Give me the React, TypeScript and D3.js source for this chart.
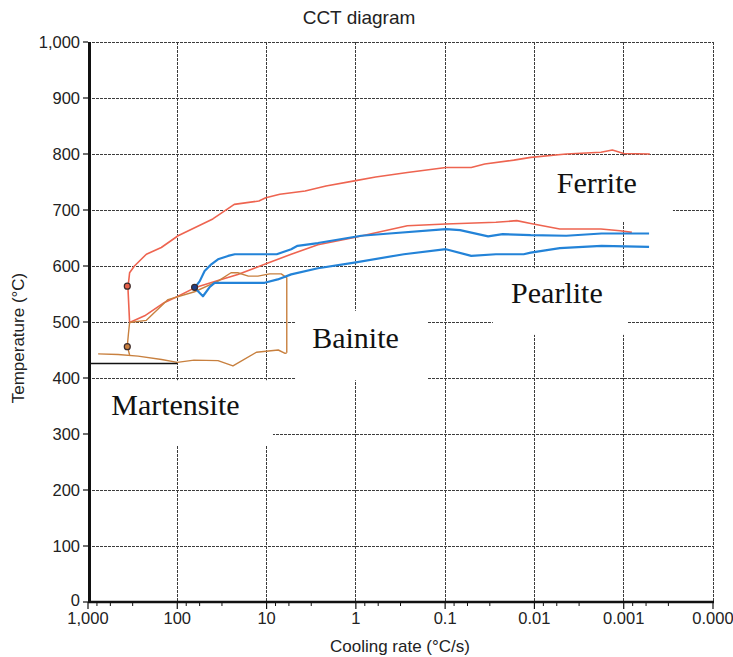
import React from 'react';
import * as d3 from 'd3';

// cooling rate (°C/s) on a reversed log axis, temperature (°C) on y
const rateTicks = [1000, 100, 10, 1, 0.1, 0.01, 0.001, 0.0001];
const rateTickLabels = ['1,000', '100', '10', '1', '0.1', '0.01', '0.001', '0.000'];
const minorTickFactors = [0.794, 0.562, 0.316];
const tempTicks = [0, 100, 200, 300, 400, 500, 600, 700, 800, 900, 1000];

// [rate, temperature]
const ferriteStart = [
  [342, 499], [357, 561], [342, 588], [302, 600], [222, 621], [151, 633], [98, 654],
  [40, 684], [23, 710], [12.2, 716], [10.2, 722], [7.1, 728], [3.7, 734], [2.16, 743],
  [1.04, 752], [0.6, 759], [0.265, 767], [0.098, 776], [0.051, 776], [0.036, 782],
  [0.017, 789], [0.011, 794], [0.0044, 800], [0.0018, 803], [0.00134, 807], [0.001, 801],
  [0.00051, 800],
];
const ferriteStart2 = [
  [342, 499], [232, 511], [139, 535], [98, 546], [64, 561], [35, 574], [21, 585],
  [10.5, 603], [5.3, 621], [2.66, 638], [1.04, 651], [0.265, 672], [0.098, 675],
  [0.027, 678], [0.0158, 681], [0.011, 676], [0.0052, 666], [0.0018, 666], [0.0011, 663],
  [0.00081, 660],
];
const pearliteStart = [
  [64, 561], [56, 573], [49.4, 591], [41.6, 603], [35, 612], [27, 618], [22.7, 621],
  [10.5, 621], [7.7, 621], [5.3, 630], [4.5, 636], [2.66, 641], [0.87, 654], [0.42, 658],
  [0.098, 666], [0.068, 664], [0.033, 653], [0.0227, 657], [0.011, 655], [0.0044, 654],
  [0.00177, 658], [0.00052, 658],
];
const pearliteFinish = [
  [64, 561], [51.6, 546], [43.6, 562], [38.2, 570], [17.6, 570], [10.5, 570], [7.5, 576],
  [5.3, 585], [2.66, 596], [1.04, 606], [0.29, 621], [0.098, 630], [0.051, 618],
  [0.027, 621], [0.0132, 621], [0.011, 624], [0.0052, 632], [0.00177, 636], [0.00052, 634],
];
const bainiteStart = [
  [342, 499], [222, 503], [127, 540], [64, 554], [35, 573], [25, 588], [21, 588],
  [16, 582], [12.5, 582], [9.25, 586], [6.85, 586], [5.94, 579], [5.94, 445],
];
const bainiteFinish = [
  [5.94, 445], [6.2, 444], [7.4, 450], [13, 446], [23.8, 421.5], [35, 431], [65, 432],
  [100, 428], [150, 433], [275, 439], [460, 442], [770, 443],
];
const martensiteLink = [[342, 499], [352, 480], [363, 457], [342, 441]];
const msLine = [[1000, 426], [100, 426]];

const dots = [
  { rate: 363, temp: 564, fill: '#e8604a' },
  { rate: 363, temp: 456, fill: '#c8803f' },
  { rate: 64, temp: 562, fill: '#1d3f8a' },
];

const regionNames = ['Ferrite', 'Pearlite', 'Bainite', 'Martensite'];
// white label boxes: [rateFrom, rateTo, tempTop, tempBottom], label anchor [rate, temp]
const regionBoxes = [
  [0.00938, 0.000281, 796, 679],
  [0.0292, 0.000897, 596, 477],
  [4.69, 0.156, 520, 396],
  [950, 8.48, 396, 280],
];
const regionAnchors = [[0.002, 730], [0.0056, 534], [1.01, 453.6], [105, 334]];

const RED = '#ee6450';
const BLUE = '#2383d8';
const BROWN = '#c8803f';

export default function App() {
  const x = d3.scaleLog().domain([1000, 0.0001]).range([88, 713]);
  const y = d3.scaleLinear().domain([0, 1000]).range([602, 42]);
  const line = d3.line<number[]>().x(d => x(d[0])).y(d => y(d[1]));

  const minorTicks: number[] = [];
  rateTicks.slice(0, -1).forEach(t => minorTickFactors.forEach(f => minorTicks.push(t * f)));

  const sans = 'Liberation Sans, Arial, sans-serif';

  return (
    <svg width={733} height={657} style={{ position: 'absolute', left: 0, top: 0, background: '#fff' }}>
      <text x={359} y={24} textAnchor="middle" fontFamily={sans} fontSize={19} fill="#222">CCT diagram</text>

      {/* grid */}
      <g stroke="#3c3c3c" strokeWidth={1} strokeDasharray="3,1" shapeRendering="crispEdges">
        {tempTicks.slice(1).map(t => (
          <line key={'h' + t} x1={88} x2={713} y1={y(t)} y2={y(t)} />
        ))}
        {rateTicks.slice(1).map(t => (
          <line key={'v' + t} x1={x(t)} x2={x(t)} y1={42} y2={602} />
        ))}
      </g>

      {/* white label boxes */}
      {regionBoxes.map((b, i) => (
        <rect key={'b' + i} x={x(b[0])} y={y(b[2])} width={x(b[1]) - x(b[0])} height={y(b[3]) - y(b[2])} fill="#fff" />
      ))}

      {/* curves */}
      <g fill="none" strokeLinejoin="round">
        <path d={line(ferriteStart) || ''} stroke={RED} strokeWidth={1.6} />
        <path d={line(ferriteStart2) || ''} stroke={RED} strokeWidth={1.6} />
        <path d={line(bainiteStart) || ''} stroke={BROWN} strokeWidth={1.4} />
        <path d={line(bainiteFinish) || ''} stroke={BROWN} strokeWidth={1.4} />
        <path d={line(martensiteLink) || ''} stroke={BROWN} strokeWidth={1.4} />
        <path d={line(pearliteStart) || ''} stroke={BLUE} strokeWidth={2.2} />
        <path d={line(pearliteFinish) || ''} stroke={BLUE} strokeWidth={2.2} />
        <path d={line(msLine) || ''} stroke="#111" strokeWidth={1.6} />
      </g>
      {dots.map((d, i) => (
        <circle key={'d' + i} cx={x(d.rate)} cy={y(d.temp)} r={3} fill={d.fill} stroke="#3a2a2a" strokeWidth={1.2} />
      ))}

      {/* region labels */}
      {regionNames.map((n, i) => (
        <text key={n} x={x(regionAnchors[i][0])} y={y(regionAnchors[i][1])} textAnchor="middle"
          fontFamily="Liberation Serif, Times New Roman, serif" fontSize={30} fill="#111">{n}</text>
      ))}

      {/* axes */}
      <line x1={89.5} x2={89.5} y1={42} y2={603} stroke="#111" strokeWidth={3} />
      <line x1={88} x2={714} y1={602} y2={602} stroke="#111" strokeWidth={2.5} />
      {tempTicks.map(t => (
        <g key={'yt' + t}>
          <line x1={83} x2={88} y1={y(t)} y2={y(t)} stroke="#111" strokeWidth={1.2} />
          <text x={80} y={t === 0 ? y(t) - 2 : y(t)} dy="0.35em" textAnchor="end" fontFamily={sans} fontSize={16.5} fill="#222">
            {d3.format(',')(t)}
          </text>
        </g>
      ))}
      {rateTicks.map((t, i) => (
        <g key={'xt' + t}>
          <line x1={x(t)} x2={x(t)} y1={602} y2={609} stroke="#111" strokeWidth={1.2} />
          <text x={x(t)} y={624} textAnchor="middle" fontFamily={sans} fontSize={16.5} fill="#222">
            {rateTickLabels[i]}
          </text>
        </g>
      ))}
      {minorTicks.map((t, i) => (
        <line key={'mt' + i} x1={x(t)} x2={x(t)} y1={602} y2={606} stroke="#111" strokeWidth={1} />
      ))}
      <text x={400} y={652} textAnchor="middle" fontFamily={sans} fontSize={17} fill="#222">Cooling rate (°C/s)</text>
      <text transform="translate(24,338) rotate(-90)" textAnchor="middle" fontFamily={sans} fontSize={17} fill="#222">
        Temperature (°C)
      </text>
    </svg>
  );
}
